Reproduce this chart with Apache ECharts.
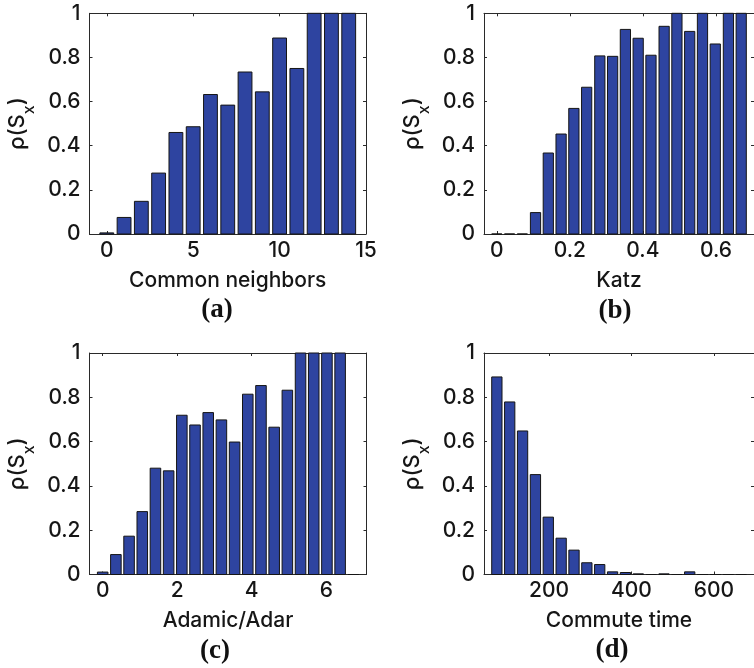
<!DOCTYPE html>
<html>
<head>
<meta charset="utf-8">
<script src="https://cdn.jsdelivr.net/npm/echarts@6/dist/echarts.min.js"></script>
<style>
  html, body { margin: 0; padding: 0; background: #fff; }
  #chart { width: 754px; height: 668px; }
</style>
</head>
<body>
<div id="chart"></div>
<script>
// Fraction of positive pairs rho(S_x) per score bin, for four link-prediction scores.
const rhoTicks = [0, 0.2, 0.4, 0.6, 0.8, 1];

// (a) Common neighbors
const cnX = [0, 1, 2, 3, 4, 5, 6, 7, 8, 9, 10, 11, 12, 13, 14];
const cnRho = [0.005, 0.075, 0.148, 0.276, 0.46, 0.486, 0.632, 0.584, 0.734, 0.644, 0.888, 0.75, 1, 1, 1];
const cnTicks = [0, 5, 10, 15];

// (b) Katz
const katzX = [0, 0.035, 0.070, 0.106, 0.141, 0.176, 0.211, 0.246, 0.282, 0.317,
               0.352, 0.387, 0.422, 0.458, 0.493, 0.528, 0.563, 0.598, 0.634, 0.669];
const katzRho = [0, 0, 0, 0.097, 0.367, 0.453, 0.569, 0.665, 0.807, 0.805,
                 0.927, 0.887, 0.81, 0.941, 1, 0.918, 1, 0.861, 1, 1];
const katzTicks = [0, 0.2, 0.4, 0.6];

// (c) Adamic/Adar
const aaX = [0, 0.354, 0.708, 1.062, 1.416, 1.77, 2.124, 2.478, 2.832, 3.186,
             3.54, 3.894, 4.248, 4.602, 4.956, 5.31, 5.664, 6.018, 6.372, 6.726];
const aaRho = [0.011, 0.09, 0.173, 0.284, 0.48, 0.468, 0.719, 0.675, 0.731, 0.698,
               0.598, 0.814, 0.853, 0.665, 0.832, 1, 1, 1, 1, 0];
const aaTicks = [0, 2, 4, 6];

// (d) Commute time
const ctX = [73.5, 104.7, 135.9, 167.1, 198.3, 229.5, 260.7, 291.9, 323.1, 354.3,
             385.5, 416.7, 447.9, 479.1, 510.3, 541.5, 572.7, 603.9, 635.1, 666.3];
const ctRho = [0.892, 0.779, 0.648, 0.451, 0.259, 0.164, 0.11, 0.053, 0.045, 0.012,
               0.009, 0.003, 0, 0.003, 0, 0.012, 0, 0, 0, 0];
const ctTicks = [200, 400, 600];

const panels = [
  { x: cnX,   y: cnRho,   ticks: cnTicks,   name: 'Common neighbors', tag: '(a)',
    grid: { left: 89.5, top: 13.3, width: 276.5, height: 220.7 } },
  { x: katzX, y: katzRho, ticks: katzTicks, name: 'Katz',             tag: '(b)',
    grid: { left: 484,  top: 13.3, width: 277,   height: 220.7 } },
  { x: aaX,   y: aaRho,   ticks: aaTicks,   name: 'Adamic/Adar',      tag: '(c)',
    grid: { left: 89.5, top: 353,  width: 277,   height: 221.5 } },
  { x: ctX,   y: ctRho,   ticks: ctTicks,   name: 'Commute time',     tag: '(d)',
    grid: { left: 484,  top: 353,  width: 277,   height: 221.5 } }
];

const FONT = 'Inter';
const FS = 21;
const TEXT = '#161616';
const AXIS = '#2a2a2a';
const BAR_FILL = '#2e44a0';
const BAR_EDGE = '#151515';

const grids = [], xAxes = [], yAxes = [], series = [], graphics = [];

panels.forEach((p, i) => {
  const bin = p.x[1] - p.x[0];
  const xMin = p.x[0] - bin;
  const xMax = p.x[p.x.length - 1] + bin;
  grids.push(Object.assign({ containLabel: false }, p.grid));

  const axisLine = { show: true, onZero: false, lineStyle: { color: AXIS, width: 1 } };
  // bottom axis with labels
  xAxes.push({
    type: 'value', gridIndex: i, position: 'bottom', min: xMin, max: xMax,
    axisLine, splitLine: { show: false },
    axisTick: { show: true, inside: true, length: 3, customValues: p.ticks, lineStyle: { color: AXIS } },
    axisLabel: { show: true, customValues: p.ticks, margin: 6, color: TEXT,
                 fontFamily: FONT, fontSize: FS, fontWeight: 500 },
    name: p.name, nameLocation: 'middle', nameGap: 36,
    nameTextStyle: { color: TEXT, fontFamily: FONT, fontSize: FS, fontWeight: 500 }
  });
  // top box edge
  xAxes.push({
    type: 'value', gridIndex: i, position: 'top', min: xMin, max: xMax,
    axisLine, splitLine: { show: false },
    axisTick: { show: true, inside: true, length: 3, customValues: p.ticks, lineStyle: { color: AXIS } },
    axisLabel: { show: false }
  });
  // left axis with labels
  yAxes.push({
    type: 'value', gridIndex: i, position: 'left', min: 0, max: 1, interval: 0.2,
    axisLine, splitLine: { show: false },
    axisTick: { show: true, inside: true, length: 3, lineStyle: { color: AXIS } },
    axisLabel: { show: true, margin: 9, color: TEXT, fontFamily: FONT, fontSize: FS,
                 fontWeight: 500, customValues: rhoTicks },
    name: '{a|ρ(S}{s|x}{a|)}', nameLocation: 'middle', nameRotate: 90, nameGap: 61,
    nameTextStyle: {
      color: TEXT,
      rich: {
        a: { fontFamily: FONT, fontSize: 22, fontWeight: 500, lineHeight: 22, verticalAlign: 'top', color: TEXT },
        s: { fontFamily: FONT, fontSize: 16, fontWeight: 500, lineHeight: 16, verticalAlign: 'top',
             padding: [15, 0, 0, 0], color: TEXT }
      }
    }
  });
  // right box edge
  yAxes.push({
    type: 'value', gridIndex: i, position: 'right', min: 0, max: 1, interval: 0.2,
    axisLine, splitLine: { show: false },
    axisTick: { show: true, inside: true, length: 3, lineStyle: { color: AXIS } },
    axisLabel: { show: false }
  });

  const halfW = bin * 0.4;
  series.push({
    type: 'custom',
    xAxisIndex: i * 2, yAxisIndex: i * 2,
    data: p.x.map((v, k) => [v, p.y[k]]),
    renderItem: (params, api) => {
      const xv = api.value(0), yv = api.value(1);
      const a = api.coord([xv - halfW, 0]);
      const b = api.coord([xv + halfW, yv]);
      return {
        type: 'rect',
        shape: { x: a[0], y: b[1], width: b[0] - a[0], height: a[1] - b[1] },
        style: { fill: BAR_FILL, stroke: BAR_EDGE, lineWidth: 1 }
      };
    },
    z: 1
  });
});

// panel captions
const tagPos = [[217, 310], [615, 311], [215, 651], [612, 650]];
panels.forEach((p, i) => {
  graphics.push({
    type: 'text', x: tagPos[i][0], y: tagPos[i][1],
    style: { text: p.tag, fill: '#111', font: 'bold 27px "Liberation Serif"',
             textAlign: 'center', textVerticalAlign: 'middle' }
  });
});

const chart = echarts.init(document.getElementById('chart'), null, { renderer: 'canvas' });
chart.setOption({
  animation: false,
  backgroundColor: '#fff',
  grid: grids,
  xAxis: xAxes,
  yAxis: yAxes,
  series: series,
  graphic: graphics
});
</script>
</body>
</html>
